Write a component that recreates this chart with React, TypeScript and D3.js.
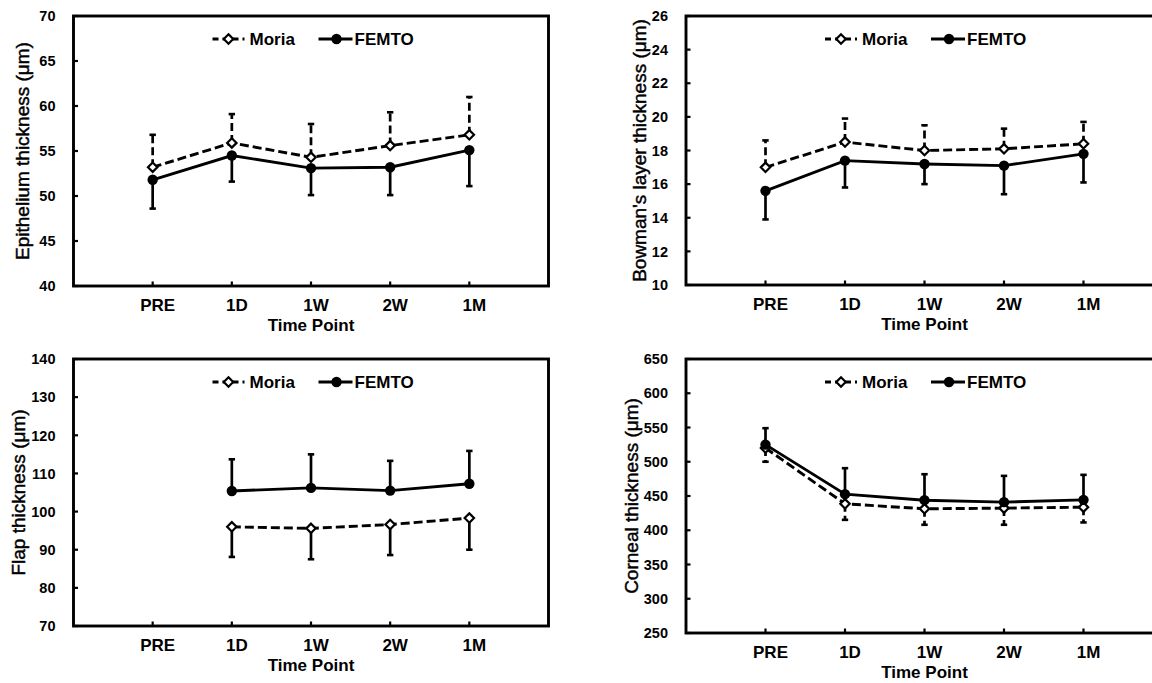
import * as d3 from "d3";

const timePoints = ["PRE", "1D", "1W", "2W", "1M"];
const seriesNames = ["Moria", "FEMTO"];

// epithelium thickness (um)
const epiMoria = [53.2, 55.9, 54.3, 55.6, 56.8];
const epiMoriaSd = [3.6, 3.2, 3.7, 3.7, 4.2];
const epiFemto = [51.8, 54.5, 53.1, 53.2, 55.1];
const epiFemtoSd = [3.2, 2.9, 3.0, 3.1, 4.0];
const epiTicks = [40, 45, 50, 55, 60, 65, 70];

// bowman's layer thickness (um)
const bowMoria = [17.0, 18.5, 18.0, 18.1, 18.4];
const bowMoriaSd = [1.6, 1.4, 1.5, 1.2, 1.3];
const bowFemto = [15.6, 17.4, 17.2, 17.1, 17.8];
const bowFemtoSd = [1.7, 1.6, 1.2, 1.7, 1.7];
const bowTicks = [10, 12, 14, 16, 18, 20, 22, 24, 26];

// flap thickness (um), no PRE value
const flapMoria = [null, 96.0, 95.6, 96.6, 98.3];
const flapMoriaSd = [null, 7.9, 8.1, 8.0, 8.3];
const flapFemto = [null, 105.4, 106.2, 105.5, 107.3];
const flapFemtoSd = [null, 8.3, 8.8, 7.8, 8.6];
const flapTicks = [70, 80, 90, 100, 110, 120, 130, 140];

// corneal thickness (um)
const corMoria = [520, 438.6, 431.3, 432.3, 433.7];
const corMoriaSd = [20, 23.4, 23.3, 24.3, 22.3];
const corFemto = [525, 452.7, 443.9, 441, 444.4];
const corFemtoSd = [24, 37.9, 37.9, 38.4, 36.5];
const corTicks = [250, 300, 350, 400, 450, 500, 550, 600, 650];

const FONT = "Arial, 'Liberation Sans', sans-serif";

type Val = number | null;

interface PanelProps {
  left: number;
  right: number;
  top: number;
  bottom: number;
  titleX: number;
  title: string;
  ticks: number[];
  moria: Val[];
  moriaSd: Val[];
  femto: Val[];
  femtoSd: Val[];
  moriaUp: boolean; // error bar direction for Moria
  moriaBarDashed: boolean;
}

const Panel = (p: PanelProps) => {
  const x = d3.scalePoint<string>().domain(timePoints).range([p.left, p.right]).padding(1);
  const y = d3
    .scaleLinear()
    .domain([p.ticks[0], p.ticks[p.ticks.length - 1]])
    .range([p.bottom, p.top]);

  const line = d3
    .line<Val>()
    .defined((d) => d != null)
    .x((_, i) => x(timePoints[i])!)
    .y((d) => y(d as number));

  const bars = (vals: Val[], sds: Val[], up: boolean, dashed: boolean, key: string) =>
    vals.map((v, i) => {
      if (v == null || sds[i] == null) return null;
      const cx = x(timePoints[i])!;
      const end = up ? v + (sds[i] as number) : v - (sds[i] as number);
      return (
        <g key={key + i}>
          <line
            x1={cx}
            x2={cx}
            y1={y(v)}
            y2={y(end)}
            stroke="#000"
            strokeWidth={2.7}
            strokeDasharray={dashed ? "8,4" : undefined}
          />
          <line x1={cx - 3.2} x2={cx + 3.2} y1={y(end)} y2={y(end)} stroke="#000" strokeWidth={2.6} />
        </g>
      );
    });

  const diamond = (cx: number, cy: number, k: string) => (
    <path
      key={k}
      d={`M${cx},${cy - 4.7}L${cx + 4.7},${cy}L${cx},${cy + 4.7}L${cx - 4.7},${cy}Z`}
      fill="#fff"
      stroke="#000"
      strokeWidth={2.2}
    />
  );

  const midX = x(timePoints[2])!;
  const legX = p.left + 139;
  const legY = p.top + 23;

  return (
    <g fontFamily={FONT}>
      {bars(p.moria, p.moriaSd, p.moriaUp, p.moriaBarDashed, "mb")}
      {bars(p.femto, p.femtoSd, !p.moriaUp, false, "fb")}
      <path d={line(p.moria) || ""} fill="none" stroke="#000" strokeWidth={2.9} strokeDasharray="9,4" />
      <path d={line(p.femto) || ""} fill="none" stroke="#000" strokeWidth={2.9} />
      {p.moria.map((v, i) => (v == null ? null : diamond(x(timePoints[i])!, y(v), "md" + i)))}
      {p.femto.map((v, i) =>
        v == null ? null : <circle key={"fc" + i} cx={x(timePoints[i])!} cy={y(v)} r={5.2} fill="#000" />
      )}

      {/* frame */}
      <rect
        x={p.left}
        y={p.top}
        width={p.right - p.left}
        height={p.bottom - p.top}
        fill="none"
        stroke="#000"
        strokeWidth={2.9}
      />
      {/* ticks */}
      {timePoints.map((t) => (
        <line key={"xt" + t} x1={x(t)!} x2={x(t)!} y1={p.bottom} y2={p.bottom - 4.5} stroke="#000" strokeWidth={2.2} />
      ))}
      {p.ticks.map((t) => (
        <line key={"yt" + t} x1={p.left} x2={p.left + 4.5} y1={y(t)} y2={y(t)} stroke="#000" strokeWidth={2.2} />
      ))}
      {timePoints.map((t) => (
        <text
          key={"xl" + t}
          x={x(t)! + 5}
          y={p.bottom + 25}
          textAnchor="middle"
          fontSize={17}
          fontWeight="bold"
        >
          {t}
        </text>
      ))}
      {p.ticks.map((t) => (
        <text
          key={"yl" + t}
          x={p.left - 18}
          y={y(t)}
          dy="0.36em"
          textAnchor="end"
          fontSize={14.5}
          fontWeight="bold"
        >
          {t}
        </text>
      ))}
      <text x={midX} y={p.bottom + 45} textAnchor="middle" fontSize={17} fontWeight="bold">
        Time Point
      </text>
      <text
        transform={`translate(${p.titleX},${(p.top + p.bottom) / 2}) rotate(-90)`}
        dy="0.35em"
        textAnchor="middle"
        fontSize={19}
        stroke="#000"
        strokeWidth={0.45}
      >
        {p.title}
      </text>

      {/* legend */}
      <line x1={legX} x2={legX + 32} y1={legY} y2={legY} stroke="#000" strokeWidth={2.9} strokeDasharray="6,4" />
      {diamond(legX + 16, legY, "legd")}
      <text x={legX + 37} y={legY} dy="0.36em" fontSize={17} fontWeight="bold">
        {seriesNames[0]}
      </text>
      <line x1={legX + 106} x2={legX + 140} y1={legY} y2={legY} stroke="#000" strokeWidth={2.9} />
      <circle cx={legX + 124} cy={legY} r={5.2} fill="#000" />
      <text x={legX + 142} y={legY} dy="0.36em" fontSize={17} fontWeight="bold">
        {seriesNames[1]}
      </text>
    </g>
  );
};

export default function App() {
  return (
    <svg
      width={1152}
      height={683}
      style={{ position: "absolute", left: 0, top: 0, background: "#fff" }}
    >
      <rect width={1152} height={683} fill="#fff" />
      <Panel
        left={73.5}
        right={548.5}
        top={16}
        bottom={286}
        titleX={22}
        title="Epithelium thickness (μm)"
        ticks={epiTicks}
        moria={epiMoria}
        moriaSd={epiMoriaSd}
        femto={epiFemto}
        femtoSd={epiFemtoSd}
        moriaUp={true}
        moriaBarDashed={true}
      />
      <Panel
        left={686}
        right={1163}
        top={16}
        bottom={285}
        titleX={639}
        title="Bowman's layer thickness (μm)"
        ticks={bowTicks}
        moria={bowMoria}
        moriaSd={bowMoriaSd}
        femto={bowFemto}
        femtoSd={bowFemtoSd}
        moriaUp={true}
        moriaBarDashed={true}
      />
      <Panel
        left={73.5}
        right={548.5}
        top={359}
        bottom={626}
        titleX={18}
        title="Flap thickness (μm)"
        ticks={flapTicks}
        moria={flapMoria}
        moriaSd={flapMoriaSd}
        femto={flapFemto}
        femtoSd={flapFemtoSd}
        moriaUp={false}
        moriaBarDashed={false}
      />
      <Panel
        left={686}
        right={1163}
        top={359}
        bottom={633}
        titleX={631}
        title="Corneal thickness (μm)"
        ticks={corTicks}
        moria={corMoria}
        moriaSd={corMoriaSd}
        femto={corFemto}
        femtoSd={corFemtoSd}
        moriaUp={false}
        moriaBarDashed={true}
      />
    </svg>
  );
}
